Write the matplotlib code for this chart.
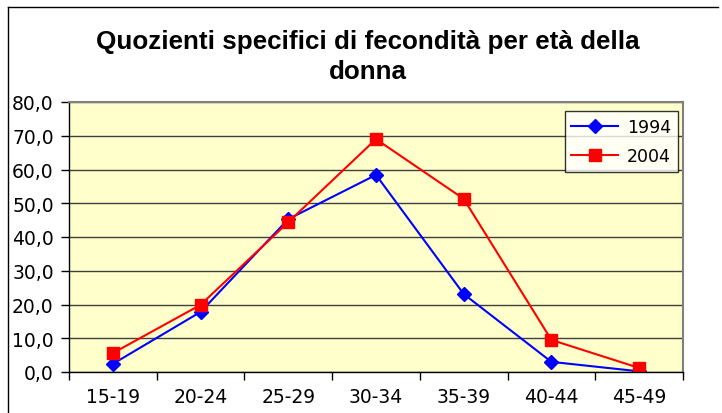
import matplotlib.pyplot as plt
from matplotlib.lines import Line2D
from matplotlib.ticker import FuncFormatter

plt.rcParams['font.family'] = ['DejaVu Sans']

eta = ['15-19', '20-24', '25-29', '30-34', '35-39', '40-44', '45-49']
q1994 = [2.4, 17.8, 45.3, 58.4, 23.1, 3.0, 0.2]
q2004 = [5.6, 19.9, 44.4, 69.0, 51.3, 9.5, 1.2]

fig = plt.figure(figsize=(7.22, 4.14), dpi=100)
ax = fig.add_axes([69 / 722, 1 - 373 / 414, 614 / 722, 270 / 414])

x = list(range(len(eta)))
ax.plot(x, q1994, color='#0000FF', marker='D', markersize=7, lw=1.5, label='1994')
ax.plot(x, q2004, color='#FF0000', marker='s', markersize=8, lw=1.5, label='2004')

ax.set_facecolor('#FFFFCC')
ax.set_xlim(-0.5, len(eta) - 0.5)
ax.set_ylim(0, 80)
ax.set_yticks(range(0, 81, 10))
ax.yaxis.set_major_formatter(FuncFormatter(lambda v, p: f'{v:.1f}'.replace('.', ',')))
ax.grid(axis='y', color='#404040', lw=1)
ax.set_axisbelow(True)

ax.set_xticks([i + 0.5 for i in range(-1, len(eta))])
ax.set_xticklabels([])
ax.set_xticks(x, minor=True)
ax.set_xticklabels(eta, minor=True)
ax.tick_params(axis='x', which='minor', length=0, pad=11, labelsize=13.5)
ax.tick_params(axis='x', which='major', length=6, width=1)
ax.tick_params(axis='y', length=6, width=1, labelsize=13.5, pad=5)

for s in ['top', 'right']:
    ax.spines[s].set_color('#808080')
    ax.spines[s].set_linewidth(1.5)
for s in ['left', 'bottom']:
    ax.spines[s].set_color('black')
    ax.spines[s].set_linewidth(1)

leg = ax.legend(loc='upper right', bbox_to_anchor=(0.992, 0.967), borderaxespad=0,
                fontsize=12.5, frameon=True, fancybox=False, edgecolor='black',
                handlelength=2.7, handletextpad=0.5, borderpad=0.4, labelspacing=0.65)
leg.get_frame().set_facecolor('white')
leg.get_frame().set_linewidth(1)

fig.text(368 / 722, 1 - 57 / 414, 'Quozienti specifici di fecondità per età della\ndonna',
         ha='center', va='center', fontsize=18.7, fontweight='bold',
         family='Liberation Sans', linespacing=1.3)

# bordo dell'area del grafico
fig.add_artist(Line2D([8 / 722, 8 / 722], [0, 1 - 8 / 414], transform=fig.transFigure,
                      color='black', lw=1))
fig.add_artist(Line2D([8 / 722, 718 / 722], [1 - 8 / 414, 1 - 8 / 414],
                      transform=fig.transFigure, color='black', lw=1))

fig.savefig('out.png', dpi=100)
